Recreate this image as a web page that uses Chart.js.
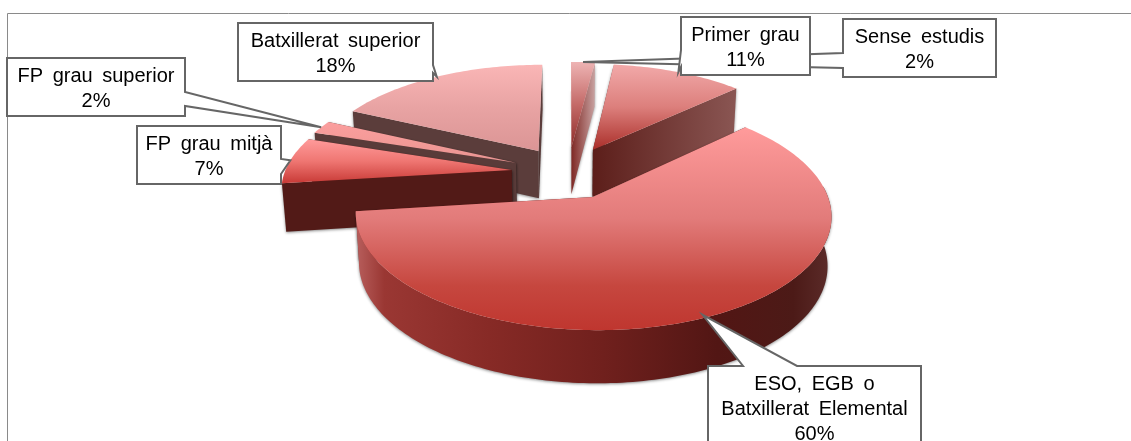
<!DOCTYPE html>
<html lang="ca">
<head>
    <meta charset="UTF-8">
    <title>Nivell d'estudis</title>
    <script src="https://cdn.jsdelivr.net/npm/chart.js"></script>
    <style>
        html, body { margin: 0; padding: 0; background: #fff; overflow: hidden; }
        #wrap { width: 1131px; height: 441px; }
    </style>
</head>
<body>
    <div id="wrap"><canvas id="pie" width="1131" height="441"></canvas></div>
    <script>
        // data (clockwise from 12 o'clock)
        const categories = [
            'Sense estudis',
            'Primer grau',
            ['ESO, EGB o', 'Batxillerat Elemental'],
            'FP grau mitjà',
            'FP grau superior',
            'Batxillerat superior'
        ];
        const values = [2, 11, 60, 7, 2, 18];

        // fake 3D view: perspective applied to the arcs Chart.js lays out
        const view = { cx: 568, cy: 172.4, sx: 227, sy: 105, persp: 0.15, depth: 48, shrink: 0.985 };

        // back slices are painted first
        const paintOrder = [0, 5, 4, 3, 1, 2];

        const sliceStyles = [
            { top: ['#eeb4b4', '#c46a68', '#8e2b28'], wall: ['#7e2824', '#c9a3a2'], wallSide: 'end' },
            { top: ['#f2a9a9', '#dc7f7c', '#aa2f2a'], wall: ['#5c1e1a', '#8a5653'], wallSide: 'end' },
            { top: ['#ff9b9b', '#e27b7a', '#c6473f', '#bf362f'],
              topStops: [0, 0.45, 0.78, 1],
              rim: ['#b85f5d', '#9a3733', '#872a26', '#70201d', '#521614', '#4c1a17', '#5c2c2a'],
              rimStops: [0, 0.06, 0.28, 0.52, 0.76, 0.92, 1] },
            { top: ['#ff9b9b', '#ef7672', '#c83a36'], wall: ['#521a17', '#521a17'], wallSide: 'start' },
            { top: ['#fb9e9e', '#f39a97', '#e79492'], wall: ['#593b39', '#593b39'], wallSide: 'start' },
            { top: ['#fab6b6', '#e8a3a3', '#db9595'], wall: ['#5b3d3b', '#5b3d3b'], wallSide: 'start' }
        ];

        // callout boxes: x, y, w, h, which edge the tail leaves from, tail base on that edge
        const callouts = [
            { i: 0, x: 843, y: 19, w: 153, h: 58, edge: 'left', base: [53, 68], tipR: 1, tipTurn: 0 },
            { i: 1, x: 681, y: 17, w: 129, h: 58, edge: 'left', base: [50, 67], tipR: 1, tipTurn: 0 },
            { i: 2, x: 708, y: 366, w: 213, h: 90, edge: 'top', base: [743, 797], tipR: 0.98, tipTurn: 0.035 },
            { i: 3, x: 137, y: 126, w: 144, h: 58, edge: 'right', base: [159, 174], tipR: 1, tipTurn: 0 },
            { i: 4, x: 7, y: 58, w: 178, h: 58, edge: 'right', base: [92, 106], tipR: 1, tipTurn: 0 },
            { i: 5, x: 238, y: 23, w: 195, h: 58, edge: 'right', base: [65, 73], tipR: 1, tipTurn: 0 }
        ];
        const labelFont = '20px "Liberation Sans", Arial, sans-serif';

        function project(u, v, low) {
            const s = 1 / (1 - view.persp * v);
            let x = view.cx + view.sx * u * s;
            let y = view.cy + view.sy * v * s;
            if (low) {
                x = view.cx + (x - view.cx) * view.shrink;
                y += view.depth * Math.sqrt(s);
            }
            return { x, y };
        }

        function sliceGeometry(arc) {
            const p = arc.getProps(['startAngle', 'endAngle', 'outerRadius'], true);
            const mid = (p.startAngle + p.endAngle) / 2;
            const o = arc.options.offset / p.outerRadius;
            return { start: p.startAngle, end: p.endAngle, mid, au: Math.cos(mid) * o, av: Math.sin(mid) * o };
        }

        // frontOnly keeps the part of the rim that faces the viewer
        function rimOf(g, low, frontOnly) {
            const pts = [];
            const steps = Math.max(4, Math.ceil((g.end - g.start) / 0.02));
            for (let k = 0; k <= steps; k++) {
                const a = g.start + (g.end - g.start) * k / steps;
                if (frontOnly && Math.sin(a) < -0.1) continue;
                pts.push(project(g.au + Math.cos(a), g.av + Math.sin(a), low));
            }
            return pts;
        }

        function tracePoly(ctx, pts) {
            ctx.beginPath();
            pts.forEach((p, k) => k ? ctx.lineTo(p.x, p.y) : ctx.moveTo(p.x, p.y));
            ctx.closePath();
        }

        function makeGradient(ctx, pts, colors, stops, vertical) {
            const key = vertical ? 'y' : 'x';
            const list = pts.map(p => p[key]);
            const a = Math.min(...list), b = Math.max(...list);
            const grad = vertical ? ctx.createLinearGradient(0, a, 0, b) : ctx.createLinearGradient(a, 0, b, 0);
            colors.forEach((c, k) => grad.addColorStop(stops ? stops[k] : k / (colors.length - 1), c));
            return grad;
        }

        function drawSlice(ctx, arc, style) {
            const g = sliceGeometry(arc);
            const top = rimOf(g, false), low = rimOf(g, true);
            const apex = project(g.au, g.av, false), apexLow = project(g.au, g.av, true);
            const rimColors = style.rim || style.wall;

            ctx.save();
            ctx.shadowColor = 'rgba(0,0,0,0.45)';
            ctx.shadowBlur = 3;
            ctx.shadowOffsetX = 0;
            ctx.shadowOffsetY = 1;

            // radial walls, the one facing us last
            const startWall = [apex, top[0], low[0], apexLow];
            const endWall = [apex, top[top.length - 1], low[low.length - 1], apexLow];
            const walls = style.wallSide === 'start' ? [endWall, startWall] : [startWall, endWall];
            walls.forEach(w => {
                tracePoly(ctx, w);
                ctx.fillStyle = makeGradient(ctx, w, rimColors, style.rimStops, false);
                ctx.fill();
            });

            // outer wall
            const frontTop = rimOf(g, false, true), frontLow = rimOf(g, true, true);
            if (style.rim && frontTop.length > 1) {
                const rimPoly = frontTop.concat(frontLow.slice().reverse());
                tracePoly(ctx, rimPoly);
                ctx.fillStyle = makeGradient(ctx, rimPoly, rimColors, style.rimStops, false);
                ctx.fill();
            }
            ctx.restore();

            // top face
            const face = [apex].concat(top);
            tracePoly(ctx, face);
            ctx.fillStyle = makeGradient(ctx, face, style.top, style.topStops, true);
            ctx.fill();
        }

        function drawCallout(ctx, c, arc) {
            const g = sliceGeometry(arc);
            const a = g.mid + c.tipTurn;
            const tip = project(g.au + Math.cos(a) * c.tipR, g.av + Math.sin(a) * c.tipR, false);
            const r = c.x + c.w, b = c.y + c.h;
            ctx.beginPath();
            ctx.moveTo(c.x, c.y);
            if (c.edge === 'top') {
                ctx.lineTo(c.base[0], c.y);
                ctx.lineTo(tip.x, tip.y);
                ctx.lineTo(c.base[1], c.y);
            }
            ctx.lineTo(r, c.y);
            if (c.edge === 'right') {
                ctx.lineTo(r, c.base[0]);
                ctx.lineTo(tip.x, tip.y);
                ctx.lineTo(r, c.base[1]);
            }
            ctx.lineTo(r, b);
            ctx.lineTo(c.x, b);
            if (c.edge === 'left') {
                ctx.lineTo(c.x, c.base[1]);
                ctx.lineTo(tip.x, tip.y);
                ctx.lineTo(c.x, c.base[0]);
            }
            ctx.closePath();
            ctx.fillStyle = '#fff';
            ctx.fill();
            ctx.lineWidth = 2;
            ctx.strokeStyle = '#666';
            ctx.lineJoin = 'miter';
            ctx.stroke();

            const name = categories[c.i];
            const lines = (Array.isArray(name) ? name : [name]).concat(values[c.i] + '%');
            ctx.fillStyle = '#000';
            ctx.font = labelFont;
            ctx.wordSpacing = '4px';
            ctx.textAlign = 'center';
            ctx.textBaseline = 'middle';
            lines.forEach((t, k) => ctx.fillText(t, c.x + c.w / 2, c.y + 18 + k * 25));
        }

        const pie3d = {
            id: 'pie3d',
            beforeDatasetsDraw(chart) {
                const ctx = chart.ctx;
                const arcs = chart.getDatasetMeta(0).data;

                // chart frame: left and top only
                ctx.save();
                ctx.strokeStyle = '#8a8a8a';
                ctx.lineWidth = 1;
                ctx.beginPath();
                ctx.moveTo(7.5, 441);
                ctx.lineTo(7.5, 13.5);
                ctx.lineTo(1131, 13.5);
                ctx.stroke();
                ctx.restore();

                paintOrder.forEach(i => drawSlice(ctx, arcs[i], sliceStyles[i]));
                return false; // the flat pie is replaced by the projected one
            },
            afterDraw(chart) {
                const ctx = chart.ctx;
                const arcs = chart.getDatasetMeta(0).data;
                ctx.save();
                callouts.forEach(c => drawCallout(ctx, c, arcs[c.i]));
                ctx.restore();
            }
        };

        new Chart(document.getElementById('pie').getContext('2d'), {
            type: 'pie',
            data: {
                labels: categories,
                datasets: [{
                    data: values,
                    backgroundColor: sliceStyles.map(s => s.top[1]),
                    borderWidth: 0,
                    offset: 49
                }]
            },
            options: {
                responsive: false,
                animation: false,
                layout: { padding: 0 },
                plugins: { legend: { display: false }, tooltip: { enabled: false } }
            },
            plugins: [pie3d]
        });
    </script>
</body>
</html>
